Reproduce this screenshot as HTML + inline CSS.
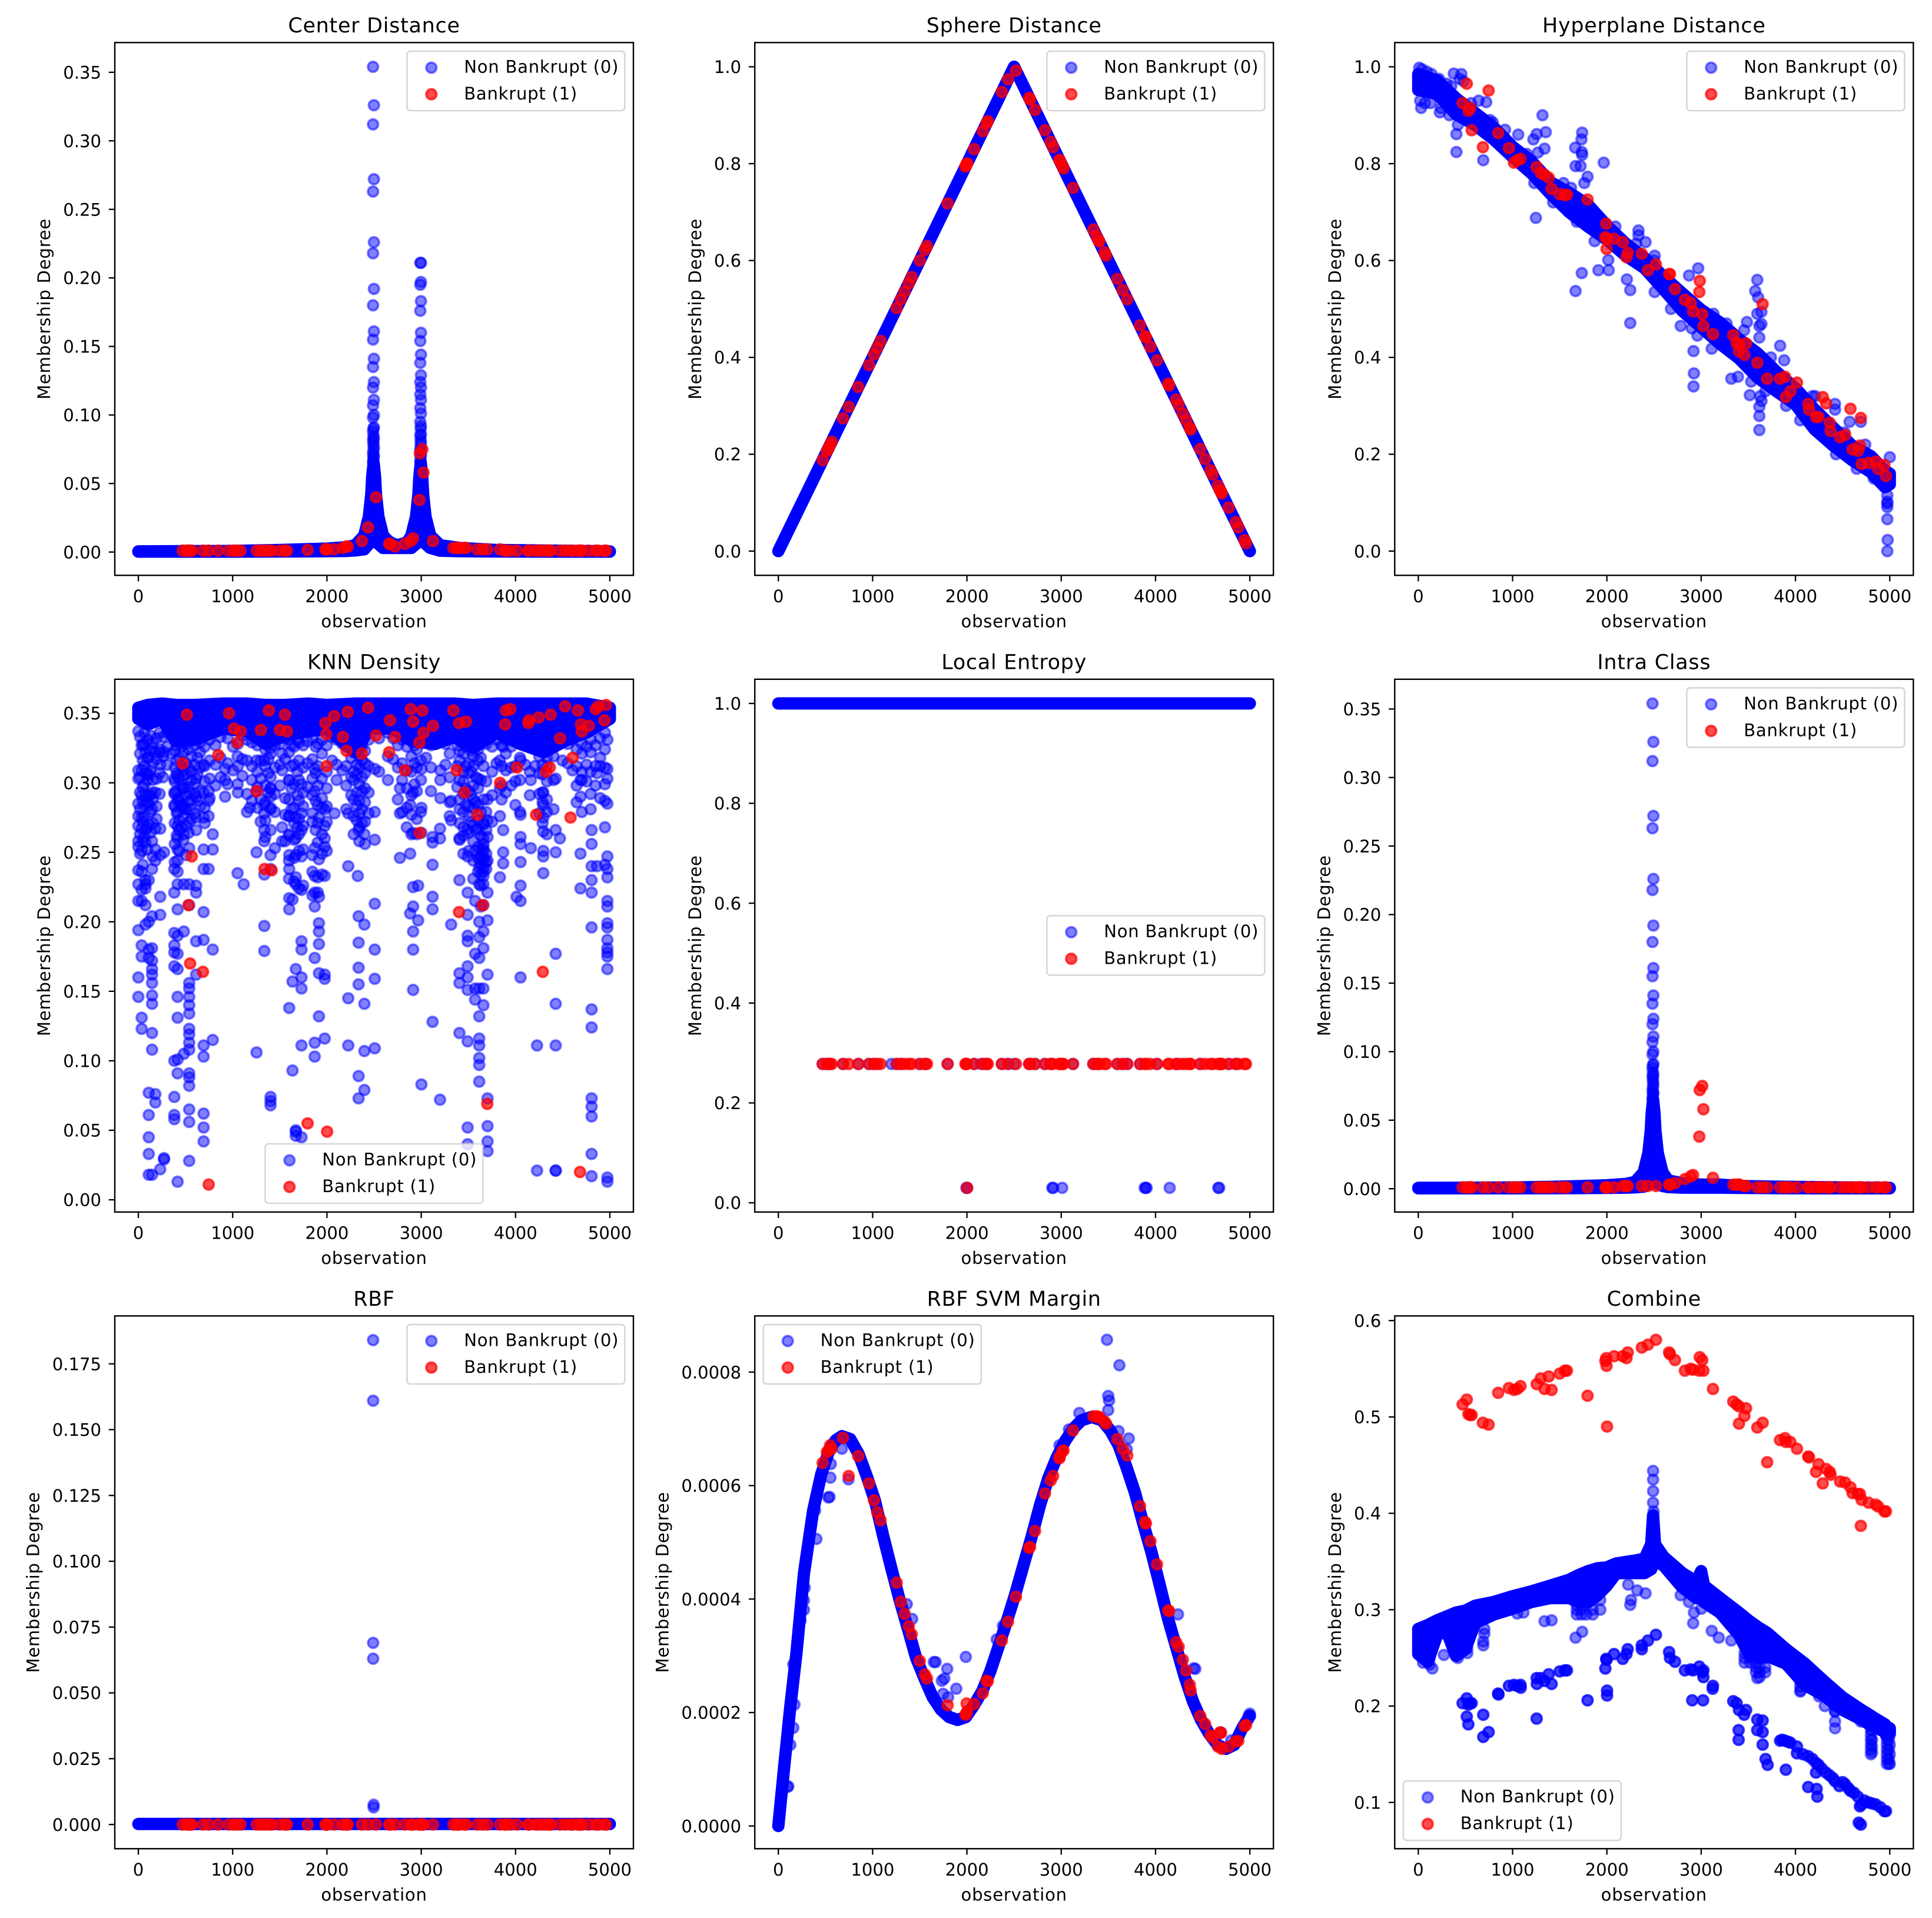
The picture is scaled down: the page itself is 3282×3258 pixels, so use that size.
<!DOCTYPE html>
<html lang="en">
<head>
<meta charset="utf-8">
<title>Membership Degree Panels</title>
<style>
html,body{margin:0;padding:0;background:#fff;}
svg{display:block;}
text{font-family:"DejaVu Sans","Liberation Sans",sans-serif;fill:#000;}
</style>
</head>
<body>
<svg id="chart" xmlns="http://www.w3.org/2000/svg" width="3282" height="3258" viewBox="0 0 3282 3258"></svg>
<script>
const obsTicks=[0,1000,2000,3000,4000,5000];

const bankruptObs=[470,514,531,549,566,685,746,847,961,1014,1049,1084,1255,1299,1339,1383,1414,1500,1554,1576,1795,1984,1993,1997,2002,2076,2168,2208,2221,2370,2436,2520,2660,2669,2722,2827,2888,2914,2985,3011,2980,3024,3125,3340,3375,3401,3476,3458,3401,3595,3652,3700,3836,3889,3898,3946,4016,4135,4144,4218,4245,4289,4324,4363,4372,4473,4526,4583,4605,4662,4684,4693,4702,4776,4851,4877,4943,4960];

const centerBankrupt=[.001,.001,.001,.001,.001,.001,.001,.001,.001,.001,.001,.001,.001,.001,.001,.001,.001,.001,.001,.001,.0015,.002,.002,.002,.002,.002,.003,.004,.004,.008,.018,.040,.006,.006,.004,.006,.008,.010,.072,.075,.038,.058,.008,.003,.003,.003,.003,.003,.003,.002,.002,.002,.002,.001,.001,.001,.001,.001,.001,.001,.001,.001,.001,.001,.001,.001,.001,.001,.001,.001,.001,.001,.001,.001,.001,.001,.001,.001];
const sphereBankrupt=[.188,.206,.212,.220,.226,.274,.298,.339,.384,.406,.420,.434,.502,.520,.536,.553,.566,.600,.622,.630,.718,.794,.797,.799,.801,.830,.867,.883,.888,.948,.974,.992,.936,.932,.911,.869,.845,.834,.806,.796,.808,.790,.750,.664,.650,.640,.610,.617,.640,.562,.539,.520,.466,.444,.441,.422,.394,.346,.342,.313,.302,.284,.270,.255,.251,.211,.190,.167,.158,.135,.126,.123,.119,.090,.060,.049,.023,.016];
const hyperBankrupt=[.925,.965,.909,.915,.869,.834,.951,.863,.832,.802,.807,.810,.793,.781,.777,.771,.748,.737,.735,.736,.726,.648,.676,.624,.645,.645,.638,.607,.616,.614,.580,.592,.572,.572,.541,.519,.512,.495,.558,.489,.535,.465,.448,.446,.430,.427,.429,.405,.413,.389,.510,.356,.356,.360,.318,.330,.348,.304,.292,.277,.277,.318,.305,.265,.248,.235,.240,.294,.210,.207,.218,.275,.180,.182,.185,.170,.178,.155];
const knnBankrupt=[.314,.349,.212,.170,.247,.164,.011,.320,.350,.339,.329,.337,.294,.338,.238,.352,.237,.338,.349,.337,.055,.343,.335,.312,.049,.348,.333,.323,.351,.321,.354,.334,.322,.345,.333,.309,.353,.344,.264,.352,.329,.336,.341,.352,.309,.343,.344,.293,.207,.277,.212,.069,.300,.342,.352,.353,.311,.343,.345,.277,.347,.164,.308,.311,.349,.332,.355,.275,.318,.352,.020,.342,.337,.341,.353,.355,.345,.356];
const localBankrupt=[.278,.278,.278,.278,.278,.278,.278,.278,.278,.278,.278,.278,.278,.278,.278,.278,.278,.278,.278,.278,.278,.278,.278,.278,.03,.278,.278,.278,.278,.278,.278,.278,.278,.278,.278,.278,.278,.278,.278,.278,.278,.278,.278,.278,.278,.278,.278,.278,.278,.278,.278,.278,.278,.278,.278,.278,.278,.278,.278,.278,.278,.278,.278,.278,.278,.278,.278,.278,.278,.278,.278,.278,.278,.278,.278,.278,.278,.278];
const intraBankrupt=[.001,.001,.001,.001,.001,.001,.001,.001,.001,.001,.001,.001,.001,.001,.001,.001,.001,.001,.001,.001,.001,.001,.001,.001,.001,.001,.002,.002,.002,.002,.002,.002,.003,.003,.004,.007,.009,.010,.072,.075,.038,.058,.008,.003,.003,.003,.002,.002,.003,.001,.001,.001,.001,.001,.001,.001,.001,.001,.001,.001,.001,.001,.001,.001,.001,.001,.001,.001,.001,.001,.001,.001,.001,.001,.001,.001,.001,.001];
const rbfBankrupt=[0,0,0,0,0,0,0,0,0,0,0,0,0,0,0,0,0,0,0,0,0,0,0,0,0,0,0,0,0,0,0,0,0,0,0,0,0,0,0,0,0,0,0,0,0,0,0,0,0,0,0,0,0,0,0,0,0,0,0,0,0,0,0,0,0,0,0,0,0,0,0,0,0,0,0,0,0,0];
const svmBankrupt=[6.4,6.59,6.62,6.71,6.65,6.84,6.17,6.52,6.04,5.74,5.53,5.39,4.29,3.95,3.74,3.52,3.38,2.91,2.67,2.6,2.13,1.96,1.98,2.16,2.02,2.15,2.34,2.56,2.55,3.27,3.6,4.04,4.9,4.92,5.2,5.86,6.09,6.17,6.51,6.6,6.48,6.62,6.97,7.22,7.22,7.21,7.09,7.13,7.2,6.82,6.65,6.53,5.64,5.36,5.33,5.02,4.61,3.8,3.79,3.24,3.16,2.93,2.74,2.49,2.39,1.94,1.8,1.6,1.56,1.4,1.65,1.64,1.36,1.4,1.49,1.5,1.76,1.78];
const combineBankrupt=[.513,.518,.503,.502,.502,.494,.492,.525,.530,.528,.529,.532,.534,.540,.529,.542,.528,.545,.548,.548,.522,.558,.561,.553,.490,.563,.563,.561,.567,.572,.575,.580,.567,.565,.559,.548,.550,.549,.562,.559,.548,.548,.529,.516,.513,.511,.509,.501,.493,.489,.494,.453,.476,.478,.474,.474,.467,.459,.458,.443,.451,.431,.446,.443,.440,.433,.432,.427,.421,.420,.420,.387,.414,.411,.409,.407,.402,.402];

const centerBandObs=[0,500,1000,1500,2000,2200,2300,2395,2445,2470,2480,2495,2510,2520,2545,2595,2650,2700,2750,2800,2850,2895,2945,2970,2980,2995,3010,3020,3045,3095,3200,3400,3800,4400,5000];
const centerBandHigh=[.0005,.0006,.0008,.0015,.0025,.0035,.005,.012,.026,.042,.055,.065,.055,.042,.026,.012,.008,.006,.005,.006,.007,.012,.026,.042,.055,.065,.055,.042,.026,.012,.005,.003,.0015,.001,.0005];
const centerBandLow=[.0003,.0003,.0003,.0004,.0006,.0008,.0012,.002,.006,.012,.02,.025,.02,.012,.006,.003,.003,.003,.003,.003,.003,.003,.006,.012,.02,.025,.02,.012,.006,.003,.001,.0006,.0004,.0003,.0003];
const spikeUpperValues=[.354,.312,.263,.218,.180,.155,.135,.120,.107,.098,.088,.082,.072,.066,.058];
const spikeLowerValues=[.326,.272,.226,.192,.161,.141,.124,.111,.100,.091,.083,.076,.070,.062];
const centerColumns=[[2489,spikeUpperValues],[2498,spikeLowerValues],[2493,[.09,.085,.08,.078,.074,.07,.068,.065,.06]],[2990,[.211,.195,.176,.154,.138,.124,.115,.105,.095,.085,.075,.066,.058]],[2997,[.211,.197,.183,.160,.144,.129,.120,.111,.101,.092,.086,.080,.071,.062,.054]],[2993,[.09,.082,.078,.074,.07,.067,.064,.06]]];

const sphereBandObs=[0,1250,2500,3750,5000];
const sphereBandValues=[0,.5,1,.5,0];

const hyperBandObs=[0,200,400,600,800,1000,1200,1400,1600,1800,2000,2200,2400,2600,2800,3000,3200,3400,3600,3800,4000,4200,4400,4600,4800,4950,5000];
const hyperBandHigh=[.985,.972,.935,.905,.875,.835,.805,.762,.74,.715,.672,.635,.605,.567,.532,.498,.472,.438,.408,.37,.336,.293,.255,.218,.196,.166,.16];
const hyperBandLow=[.952,.944,.902,.88,.85,.814,.78,.738,.7,.67,.643,.61,.584,.541,.496,.462,.428,.398,.358,.33,.303,.252,.218,.188,.163,.132,.138];
const hyperOutliers=[[1317,.9],[1352,.865],[1255,.861],[1220,.85],[1339,.831],[1269,.823],[1664,.833],[1738,.864],[1730,.85],[1734,.824],[1738,.818],[1668,.795],[1721,.795],[1795,.773],[1967,.802],[404,.824],[404,.861],[377,.986],[457,.985],[689,.807],[30,.915],[228,.906],[720,.927],[1247,.688],[1668,.537],[1734,.574],[1910,.58],[2019,.58],[2015,.601],[2212,.561],[2248,.539],[2248,.471],[2335,.662],[2335,.652],[2410,.638],[2507,.61],[2507,.535],[2783,.465],[2871,.569],[2968,.584],[2919,.413],[2923,.367],[2919,.34],[3112,.418],[3319,.356],[3595,.56],[3573,.537],[3604,.524],[3595,.49],[3639,.494],[3485,.473],[3617,.465],[3639,.469],[3617,.441],[3455,.456],[3837,.424],[3880,.394],[3516,.322],[3626,.32],[3617,.298],[3617,.279],[3617,.25],[4210,.32],[4420,.304],[4420,.292],[4574,.267],[4693,.267],[5000,.194],[4974,.115],[4974,.102],[4974,.098],[4974,.091],[4974,.066],[4978,.023],[4974,0],[10,.998],[40,.995],[90,.99],[140,.985],[220,.975],[300,.965],[350,.96],[20,.93],[70,.925],[130,.925],[240,.915],[330,.9],[440,.975],[480,.97],[420,.88],[560,.925],[640,.93],[760,.89],[790,.885],[920,.87],[1060,.86],[1150,.82],[1230,.76],[1430,.72],[1540,.76],[1620,.75],[1680,.68],[1760,.76],[1870,.64],[2090,.67],[2310,.635],[2500,.6],[2680,.5],[2760,.52],[2900,.46],[2960,.445],[3130,.49],[3270,.47],[3300,.43],[3390,.36],[3530,.35],[3680,.33],[3640,.31],[3740,.4],[3900,.3],[4050,.27],[4180,.32],[4320,.235],[4430,.2],[4520,.245],[4650,.17],[4740,.22],[4830,.15]];

const knnBandObs=[0,100,250,400,600,900,1150,1350,1550,1800,2000,2300,2450,2700,2900,3150,3350,3550,3800,4050,4300,4550,4750,5000];
const knnBandHigh=[.354,.356,.357,.356,.356,.357,.357,.356,.356,.357,.356,.357,.357,.357,.357,.357,.357,.356,.357,.357,.357,.357,.357,.354];
const knnBandLow=[.346,.342,.346,.33,.331,.339,.337,.328,.334,.337,.339,.322,.339,.339,.33,.328,.333,.325,.336,.328,.322,.331,.336,.346];
const knnColumns=[
[0,[.146,.16,.194,.215,.227,.237,.254,.258,.269,.276,.285,.303,.309,.337]],
[35,[.131,.123,.183,.175,.215,.223,.236,.251,.267,.275,.291,.309,.327]],
[75,[.227,.224,.212,.23,.198,.257,.266,.291,.307,.322]],
[110,[.077,.061,.045,.033,.018,.23,.2,.18,.174,.27,.284,.291,.306,.318]],
[145,[.12,.108,.018,.141,.147,.156,.162,.166,.172,.181,.204,.238,.258,.281,.293,.325]],
[180,[.07,.076,.244,.252,.267,.293,.322]],
[232,[.218,.205,.248,.267,.313,.324,.022]],
[272,[.03,.029,.25,.322]],
[381,[.192,.183,.178,.1,.074,.061,.058,.168,.221,.238,.284,.293,.303,.331]],
[416,[.013,.209,.19,.177,.166,.146,.131,.091,.101,.26,.236,.227,.244,.252,.269,.279,.288,.305]],
[482,[.105,.193,.227,.305,.296,.281,.263]],
[539,[.028,.056,.065,.082,.088,.091,.108,.113,.119,.123,.134,.14,.146,.152,.156,.212,.227,.253,.272,.281,.293]],
[613,[.162,.186,.221,.226,.266,.275,.29,.303]],
[692,[.042,.052,.062,.103,.111,.187,.207,.238,.252,.275,.293,.313]],
[745,[.238,.276,.287,.294]],
[789,[.115,.18,.252,.263]],
[920,[.302,.29,.31]],
[1052,[.235,.299,.319]],
[1117,[.227]],
[1183,[.282]],
[1253,[.106,.25,.294,.316]],
[1336,[.179,.197,.234,.258,.266,.278,.284,.316]],
[1402,[.074,.071,.068,.238,.248,.281,.29,.296,.325]],
[1525,[.268,.258,.309,.321]],
[1600,[.138,.209,.217,.238,.248,.263,.276,.302]],
[1635,[.093,.157,.216]],
[1670,[.049,.05,.046,.166,.227,.232,.248,.26,.275]],
[1730,[.045,.111,.152,.16,.18,.186,.223,.247,.266,.278,.299]],
[1870,[.103,.113,.174,.211,.221,.233,.253,.294,.31]],
[1915,[.132,.163,.184,.193,.199,.218,.245,.275]],
[1976,[.116,.159,.162,.233,.254,.26,.269,.281]],
[2080,[.278]],
[2226,[.24,.111,.145,.278]],
[2327,[.233]],
[2336,[.073,.089,.155,.167,.185,.204,.266]],
[2397,[.079,.107,.141,.198,.263]],
[2507,[.109,.159,.18,.213,.259,.279,.31]],
[2774,[.246,.278,.296]],
[2883,[.206,.249,.284]],
[2914,[.151,.18,.193,.211,.225,.264,.293]],
[2967,[.201,.226]],
[3002,[.083,.264,.282,.31]],
[3120,[.128,.209,.218,.241,.257,.261]],
[3199,[.072,.26,.267]],
[3317,[.198,.273,.287]],
[3405,[.12,.156,.163,.23,.26]],
[3492,[.052,.04,.114,.168,.16,.151,.186,.19,.205,.221,.247,.266]],
[3571,[.177,.152,.144,.215,.251]],
[3615,[.085,.097,.102,.111,.116,.132,.152,.174,.189,.2,.227,.239,.245]],
[3659,[.14,.152,.181,.193,.212,.227,.236,.244,.253,.26,.27]],
[3703,[.035,.042,.053,.073,.162,.201,.221,.244,.261,.273,.288]],
[3834,[.232,.276,.296,.316]],
[3869,[.242,.25,.266,.326]],
[4010,[.218]],
[4053,[.16,.215,.226,.243,.261,.256,.277,.316]],
[4162,[.253,.302]],
[4228,[.021,.111]],
[4294,[.235,.247,.251,.265,.275,.284,.293]],
[4426,[.021,.021,.111,.141,.177,.25,.266,.303]],
[4470,[.26]],
[4689,[.224,.249,.29,.302]],
[4807,[.017,.033,.06,.067,.073,.124,.137,.196,.221,.23,.24,.256,.266]],
[4864,[.24,.307]],
[4974,[.016,.013,.166,.175,.178,.181,.187,.196,.199,.211,.215,.232,.238,.247,.285,.303,.31,.331]]
];
const knnDenseColumns=[
[18,[.333,.321,.304,.293,.281,.263,.249]],[47,[.328,.316,.297,.287,.272,.258,.241]],[63,[.336,.327,.312,.299,.284,.276,.261]],[96,[.331,.318,.306,.302,.286,.268,.252]],[128,[.334,.323,.309,.291,.279,.264]],[152,[.329,.314,.302,.288,.271,.247]],[193,[.332,.317,.303,.283,.274]],[226,[.336,.322,.307,.292]],[262,[.333,.319,.304]],[305,[.336,.326,.313]],[348,[.334,.321]],
[386,[.332,.323,.311,.301,.292,.283,.271,.256,.243]],[407,[.327,.316,.307,.294,.278,.262]],[433,[.331,.318,.303,.289,.286,.273,.266,.251]],[458,[.326,.312,.298,.284,.268]],[477,[.333,.322,.309,.296,.283,.276,.259]],[506,[.328,.314,.306,.291,.281,.269,.248]],[533,[.324,.311,.297,.286,.264]],[561,[.331,.319,.308,.302,.288,.274]],[597,[.327,.313,.299,.292,.278]],[628,[.332,.318,.306,.287]],[654,[.329,.322,.311,.294,.283]],[703,[.326,.312,.301,.282,.271]],[756,[.331,.316,.303,.289]],[818,[.327,.313,.298]],[871,[.333,.318,.304]],
[947,[.332,.314,.299]],[1003,[.326,.309]],[1056,[.328,.312,.293]],[1103,[.334,.317,.305]],[1152,[.331,.316,.292,.279]],[1204,[.329,.312,.302,.287]],
[1262,[.327,.308,.297,.282]],[1297,[.332,.316,.303,.288,.272]],[1346,[.324,.312,.298,.286,.273,.261]],[1378,[.329,.317,.307,.293]],[1403,[.333,.321,.304,.296,.282,.266]],[1448,[.327,.311,.292,.279,.253]],
[1502,[.328,.313,.298]],[1557,[.332,.317,.289,.277,.258]],[1598,[.331,.322,.302,.288,.276,.262,.244,.231]],[1624,[.327,.312,.296,.281]],[1652,[.326,.313,.299,.282,.271,.259,.246,.229]],[1687,[.331,.308,.291,.268]],[1703,[.329,.316,.302,.287,.274,.263,.251,.224]],[1748,[.327,.311,.293,.283,.269,.252,.226]],[1793,[.33,.314,.297]],
[1846,[.332,.317,.303,.291,.278,.272,.248,.236,.219]],[1881,[.326,.307,.287,.266]],[1903,[.328,.312,.298,.284,.271,.257,.232,.221]],[1947,[.331,.321,.303,.289,.282,.263,.249,.234]],[1998,[.327,.308,.296,.283,.272,.251]],
[2054,[.333,.316]],[2103,[.331,.313,.302]],[2162,[.328,.309]],[2204,[.326,.312,.298,.281]],[2258,[.331,.318,.304,.291]],[2284,[.327,.322,.308,.302,.288,.276,.263]],[2317,[.324,.313,.306,.293,.284,.273]],[2343,[.331,.319,.311,.299,.287,.278,.268,.258]],[2372,[.326,.316,.304,.294,.281,.271]],[2403,[.323,.314,.307,.296,.286,.272,.256]],[2442,[.331,.312,.293,.278]],
[2553,[.332,.308]],[2647,[.336,.319,.302]],[2703,[.332,.317]],[2752,[.327,.311,.288]],[2798,[.331,.314,.302,.279]],[2847,[.326,.309,.296,.282,.268]],[2896,[.332,.319,.308,.291,.277,.263]],[2928,[.327,.314,.299]],[2953,[.324,.311,.294,.274,.263]],[2996,[.331,.316,.302,.279]],[3052,[.333,.318]],[3103,[.327,.311,.294]],[3203,[.332,.309,.302,.289]],[3257,[.328,.313]],[3302,[.321,.304,.286,.276]],
[3382,[.327,.312,.297]],[3408,[.323,.316,.302,.288,.281,.271,.259]],[3447,[.331,.321,.308,.301,.292,.279,.268,.262,.249]],[3472,[.326,.312,.296,.284]],[3503,[.327,.314,.307,.294,.283,.276,.264,.251]],[3531,[.323,.308,.291,.272]],[3552,[.331,.319,.312,.298,.288,.282,.269,.258,.244,.231]],[3578,[.326,.304,.286,.266]],[3603,[.324,.316,.303,.296,.284,.273,.267,.254,.246,.236]],[3632,[.318,.302,.279,.262,.252,.247,.241,.234,.226,.211]],[3661,[.312,.288,.271,.256,.251,.246,.239,.233]],[3689,[.328,.301,.279,.266,.249,.243,.238]],[3752,[.326,.308,.291,.272]],[3798,[.331,.314]],
[3852,[.327,.312,.298,.288]],[3897,[.331,.321,.309,.293]],[3953,[.326,.311,.298]],[3998,[.332,.312,.301,.284]],[4047,[.329,.318,.302,.279]],[4103,[.331,.313]],[4152,[.327,.308,.291]],[4207,[.329,.312]],[4252,[.328,.319,.307,.292,.278]],[4287,[.324,.313,.306,.293,.286,.271]],[4333,[.329,.318,.312,.301,.288,.279,.263]],[4403,[.319,.302,.281]],[4497,[.332,.316]],[4553,[.328,.314]],[4604,[.331,.309]],[4648,[.324,.312,.298,.286]],[4703,[.328,.321,.308,.302,.279]],[4753,[.326,.313,.301]],[4797,[.331,.322,.308,.292,.281]],[4848,[.327,.312,.298]],[4897,[.332,.318,.312,.289]],[4948,[.336,.324,.311,.299,.287,.268,.241]]
];

const localBandObs=[0,5000];
const localBandValues=[1,1];
const localPoints=[[470,.278],[514,.278],[685,.278],[850,.278],[961,.278],[1014,.278],[1200,.278],[1255,.278],[1299,.278],[1500,.278],[1554,.278],[1795,.278],[2076,.278],[2150,.278],[2208,.278],[2370,.278],[2436,.278],[2500,.278],[2660,.278],[2722,.278],[2827,.278],[2888,.278],[3125,.278],[3340,.278],[3595,.278],[3652,.278],[3700,.278],[3836,.278],[4016,.278],[4218,.278],[4473,.278],[4693,.278],[4776,.278],[4851,.278],[1995,.03],[2002,.03],[2905,.03],[2915,.03],[3010,.03],[3885,.03],[3895,.03],[3905,.03],[4150,.03],[4665,.03],[4675,.03]];

const intraBandObs=[0,500,1000,1500,2000,2200,2300,2390,2440,2465,2475,2490,2505,2515,2540,2590,2650,2800,3000,3200,3400,3800,4400,5000];
const intraBandHigh=[.0006,.0007,.0009,.0015,.0025,.0035,.005,.012,.026,.042,.055,.065,.055,.042,.026,.012,.006,.004,.003,.003,.002,.0015,.001,.0006];
const intraBandLow=[.0003,.0003,.0003,.0004,.0006,.0008,.001,.0015,.0035,.006,.012,.018,.012,.006,.0035,.002,.0012,.0008,.0008,.0008,.0006,.0004,.0003,.0003];
const intraColumns=[[2484,spikeUpperValues],[2493,spikeLowerValues],[2489,[.09,.085,.08,.078,.074,.07,.068,.065,.06]]];

const rbfBandObs=[0,5000];
const rbfBandValues=[.0002,.0002];
const rbfPoints=[[2490,.184],[2490,.161],[2490,.069],[2490,.063],[2495,.0075],[2495,.0065]];

const svmBandObs=[0,61,127,193,271,368,455,543,609,674,762,850,937,1025,1112,1200,1287,1375,1462,1550,1637,1725,1812,1900,1988,2075,2163,2250,2338,2425,2513,2600,2688,2776,2863,2951,3039,3126,3214,3323,3433,3520,3608,3695,3783,3870,3958,4046,4133,4221,4308,4396,4483,4571,4658,4746,4834,4921,5000];
const svmBandValues=[0,1.03,2.11,3.07,4.45,5.55,6.2,6.64,6.8,6.87,6.82,6.56,6.17,5.73,5.11,4.53,3.98,3.47,2.96,2.6,2.27,2.05,1.92,1.87,1.92,2.13,2.38,2.74,3.18,3.62,4.09,4.6,5.11,5.66,6.13,6.49,6.78,7.0,7.15,7.21,7.15,6.97,6.71,6.31,5.87,5.33,4.82,4.24,3.65,3.14,2.64,2.2,1.87,1.62,1.43,1.36,1.43,1.73,1.94];
const svmOutliers=[[3485,8.57],[3617,8.12],[3498,7.58],[3507,7.5],[3498,7.33],[3192,7.28],[3717,6.83],[3608,6.96],[3695,6.64],[2982,6.71],[3082,6.99],[552,6.14],[543,5.8],[530,5.79],[403,5.06],[390,5.56],[556,6.38],[744,6.11],[674,6.65],[280,4.2],[271,3.98],[271,3.81],[236,3.62],[158,2.85],[171,2.14],[158,1.73],[96,.69],[105,.7],[127,1.43],[1362,3.91],[1419,3.65],[1668,2.89],[1650,2.89],[1791,2.77],[1734,2.56],[1760,2.6],[1887,2.42],[1988,2.98],[1747,2.33],[1800,2.27],[4238,3.73],[4422,2.77],[4405,2.78],[2316,3.29],[2382,3.53],[4803,1.51],[4693,1.65],[4987,1.94],[5000,1.98]];

const combineBandObs=[0,100,200,300,400,500,600,800,1000,1200,1400,1600,1700,1800,1900,2000,2100,2300,2400,2470,2490,2510,2600,2800,2950,3000,3030,3200,3400,3500,3600,3700,3900,4100,4300,4500,4700,4800,4830,4950,4960,5000];
const combineBandHigh=[.28,.284,.289,.293,.297,.299,.304,.308,.314,.319,.325,.331,.336,.34,.343,.344,.348,.351,.353,.368,.398,.368,.355,.338,.329,.34,.325,.312,.297,.289,.282,.276,.259,.244,.226,.209,.196,.19,.188,.181,.179,.177];
const combineBandLow=[.254,.246,.274,.278,.252,.259,.286,.295,.301,.308,.312,.312,.308,.308,.315,.325,.338,.338,.338,.342,.351,.35,.346,.323,.312,.312,.308,.297,.274,.255,.25,.252,.244,.222,.211,.196,.186,.18,.179,.173,.17,.172];
const combinePoints=[[2490,.444],[2490,.435],[2490,.423],[2490,.411],[2495,.402],[2490,.39],[2226,.326],[2256,.31],[2248,.305],[2322,.32],[2410,.317],[1668,.271],[1738,.277],[689,.263],[689,.267],[1049,.296],[1115,.297],[1339,.288],[1414,.289],[149,.239],[272,.253],[2783,.315],[2871,.308],[2915,.286],[2923,.297],[3002,.301],[3112,.278],[3187,.271],[3319,.268],[4311,.2],[4420,.194],[4420,.184],[4420,.177],[4056,.216],[4693,.184],[3595,.229]];
const combineLowerBranch=[[470,.203],[514,.208],[531,.2015],[549,.203],[566,.203],[514,.189],[531,.181],[689,.191],[689,.168],[746,.173],[847,.213],[850,.212],[961,.221],[1014,.222],[1049,.221],[1084,.222],[1086,.219],[1255,.229],[1255,.187],[1257,.223],[1299,.229],[1339,.226],[1383,.233],[1414,.223],[1500,.236],[1554,.237],[1576,.237],[1795,.206],[1984,.239],[1993,.249],[1997,.248],[2002,.211],[2002,.216],[2076,.254],[2168,.249],[2208,.254],[2221,.259],[2370,.259],[2370,.263],[2436,.268],[2520,.274],[2660,.256],[2669,.25],[2722,.246],[2827,.237],[2888,.238],[2914,.237],[2905,.206],[2980,.241],[3024,.237],[3024,.23],[3020,.206],[3011,.235],[3125,.221],[3122,.218],[3340,.205],[3375,.203],[3401,.196],[3476,.196],[3455,.191],[3397,.175],[3397,.165],[3595,.186],[3652,.185],[3595,.175],[3652,.173],[3652,.16],[3683,.145],[3705,.139],[3837,.164],[3889,.164],[3898,.134],[3946,.162],[4016,.158],[4016,.151],[4135,.148],[4135,.116],[4218,.141],[4218,.131],[4232,.106],[4224,.114],[4245,.139],[4324,.131],[4363,.128],[4465,.117],[4526,.119],[4583,.112],[4662,.106],[4684,.096],[4671,.079],[4693,.077],[4702,.098],[4776,.1],[4851,.098],[4943,.091],[4960,.091],[3860,.165],[3920,.163],[4080,.15],[4180,.145],[4280,.135],[4400,.125],[4420,.122],[4500,.121],[4560,.115],[4620,.11],[4730,.102],[4810,.099],[4900,.095]];
const combineColumns=[[4800,[.18,.175,.17,.165,.16,.155,.15]],[4812,[.175,.165,.158,.152]],[4970,[.17,.165,.16,.155,.15,.145,.14]],[4990,[.175,.165,.155,.145,.14]],[5000,[.17,.16,.15,.14]],[3460,[.255,.25,.245]],[3520,[.27,.26,.25,.245]],[3580,[.265,.255,.245,.24,.235]],[3620,[.26,.25,.24,.235,.23]],[3680,[.265,.25,.24,.235]],[1680,[.305,.3,.295]],[1730,[.31,.3,.295]],[1780,[.305,.295]],[1850,[.31,.3,.295]],[1930,[.31,.3]],[4050,[.235,.225,.22,.215]],[4250,[.215,.21]],[4420,[.2,.195]],[50,[.25,.245]],[120,[.25,.243]],[420,[.26,.255,.25]],[520,[.26,.255]],[700,[.28,.275]]];

const frac2Ticks=[0,.05,.1,.15,.2,.25,.3,.35];
const frac2Labels=['0.00','0.05','0.10','0.15','0.20','0.25','0.30','0.35'];
const unitTicks=[0,.2,.4,.6,.8,1];
const unitLabels=['0.0','0.2','0.4','0.6','0.8','1.0'];
const rbfTicks=[0,.025,.05,.075,.1,.125,.15,.175];
const rbfLabels=['0.000','0.025','0.050','0.075','0.100','0.125','0.150','0.175'];
const svmTicks=[0,2,4,6,8];
const svmLabels=['0.0000','0.0002','0.0004','0.0006','0.0008'];
const combineTicks=[.1,.2,.3,.4,.5,.6];
const combineLabels=['0.1','0.2','0.3','0.4','0.5','0.6'];

const NS='http://www.w3.org/2000/svg';
const root=document.getElementById('chart');
const colLeft=[195,1282.2,2369.3];
const rowTop=[72.3,1153.8,2235.3];
const axW=881,axH=905;
const xMin=-250,xMax=5250;
const R=8.73,EDGE=3.8,BAND=21,LS=.75;

function node(tag,attrs,parent,txt){
  const el=document.createElementNS(NS,tag);
  for(const k in attrs) el.setAttribute(k,attrs[k]);
  if(txt!==undefined) el.textContent=txt;
  parent.appendChild(el);
  return el;
}
function flatten(cols){
  const out=[];
  cols.forEach(c=>c[1].forEach(v=>out.push([c[0],v])));
  return out;
}
function labelWidth(s){return ((s.length-1)*.636+.318)*29.1;}

function drawPanel(p,idx){
  const left=colLeft[p.col],top=rowTop[p.row];
  const sx=v=>left+(v-xMin)/(xMax-xMin)*axW;
  const sy=v=>top+axH-(v-p.yMin)/(p.yMax-p.yMin)*axH;
  const g=node('g',{},root);
  
  

  const clipId='clip'+idx;
  const defs=node('defs',{},g);
  const cp=node('clipPath',{id:clipId},defs);
  node('rect',{x:left,y:top,width:axW,height:axH},cp);

  const plot=node('g',{'clip-path':'url(#'+clipId+')'},g);
  
  

  let d='';
  p.bandObs.forEach((o,i)=>{d+=(i?'L':'M')+sx(o).toFixed(1)+' '+sy(p.bandHigh[i]).toFixed(1);});
  for(let i=p.bandObs.length-1;i>=0;i--){d+='L'+sx(p.bandObs[i]).toFixed(1)+' '+sy(p.bandLow[i]).toFixed(1);}
  const band=node('path',{d:d+'Z',fill:'#0000ff',stroke:'#0000ff','stroke-width':BAND,'stroke-linejoin':'round'},plot);
  
  

  p.points.forEach(pt=>{
    const c=node('circle',{cx:sx(pt[0]).toFixed(1),cy:sy(pt[1]).toFixed(1),r:R,fill:'#0000ff','fill-opacity':.5,stroke:'#0000ff','stroke-opacity':.5,'stroke-width':EDGE},plot);
    
    
  });
  bankruptObs.forEach((o,i)=>{
    const c=node('circle',{cx:sx(o).toFixed(1),cy:sy(p.bankrupt[i]).toFixed(1),r:R,fill:'#ff0000','fill-opacity':.7,stroke:'#ff0000','stroke-opacity':.7,'stroke-width':EDGE},plot);
    
    
  });

  const frame=node('rect',{x:left,y:top,width:axW,height:axH,fill:'none',stroke:'#000','stroke-width':2.4},g);
  
  

  obsTicks.forEach(t=>{
    const x=sx(t);
    const tk=node('line',{x1:x,x2:x,y1:top+axH,y2:top+axH+10.2,stroke:'#000','stroke-width':2.3},g);
    
    
    const lb=node('text',{x:x,y:top+axH+45.6,'text-anchor':'middle','font-size':29.1},g,String(t));
    
    
  });
  let longest=0;
  p.yTicks.forEach((t,i)=>{
    const y=sy(t);
    const tk=node('line',{x1:left-10.2,x2:left,y1:y,y2:y,stroke:'#000','stroke-width':2.3},g);
    
    
    const lb=node('text',{x:left-23,y:y+10.6,'text-anchor':'end','font-size':29.1},g,p.yLabels[i]);
    
    
    longest=Math.max(longest,labelWidth(p.yLabels[i]));
  });

  const cx=left+axW/2,cy=top+axH/2;
  const title=node('text',{x:cx,y:top-17.5,'text-anchor':'middle','font-size':34.9,'letter-spacing':LS},g,p.title);
  
  
  const xl=node('text',{x:cx,y:top+axH+88,'text-anchor':'middle','font-size':29.1,'letter-spacing':LS},g,'observation');
  
  
  const ylx=left-longest-45;
  const yl=node('text',{x:ylx,y:cy,'text-anchor':'middle','font-size':29.1,'letter-spacing':LS,transform:'rotate(-90 '+ylx+' '+cy+')'},g,'Membership Degree');
  
  

  const lg=node('g',{},g);
  
  
  const lx=p.legend[0],ly=p.legend[1];
  const box=node('rect',{x:lx,y:ly,width:370,height:101,rx:5.8,ry:5.8,fill:'#fff','fill-opacity':.8,stroke:'#ccc','stroke-opacity':.8,'stroke-width':2.6},lg);
  
  
  const m0=node('circle',{cx:lx+41.4,cy:ly+28,r:R,fill:'#0000ff','fill-opacity':.5,stroke:'#0000ff','stroke-opacity':.5,'stroke-width':EDGE},lg);
  
  
  const t0=node('text',{x:lx+96.8,y:ly+36.5,'font-size':29.1,'letter-spacing':LS},lg,'Non Bankrupt (0)');
  
  
  const m1=node('circle',{cx:lx+41.4,cy:ly+73.1,r:R,fill:'#ff0000','fill-opacity':.7,stroke:'#ff0000','stroke-opacity':.7,'stroke-width':EDGE},lg);
  
  
  const t1=node('text',{x:lx+96.8,y:ly+82,'font-size':29.1,'letter-spacing':LS},lg,'Bankrupt (1)');
  
  
}

[
 {slug:'center-distance',title:'Center Distance',col:0,row:0,yMin:-.017,yMax:.3717,yTicks:frac2Ticks,yLabels:frac2Labels,bandObs:centerBandObs,bandHigh:centerBandHigh,bandLow:centerBandLow,points:flatten(centerColumns),bankrupt:centerBankrupt,legend:[691.4,87]},
 {slug:'sphere-distance',title:'Sphere Distance',col:1,row:0,yMin:-.05,yMax:1.05,yTicks:unitTicks,yLabels:unitLabels,bandObs:sphereBandObs,bandHigh:sphereBandValues,bandLow:sphereBandValues,points:[],bankrupt:sphereBankrupt,legend:[1778.4,87]},
 {slug:'hyperplane-distance',title:'Hyperplane Distance',col:2,row:0,yMin:-.05,yMax:1.05,yTicks:unitTicks,yLabels:unitLabels,bandObs:hyperBandObs,bandHigh:hyperBandHigh,bandLow:hyperBandLow,points:hyperOutliers,bankrupt:hyperBankrupt,legend:[2865.4,87]},
 {slug:'knn-density',title:'KNN Density',col:0,row:1,yMin:-.0088,yMax:.3745,yTicks:frac2Ticks,yLabels:frac2Labels,bandObs:knnBandObs,bandHigh:knnBandHigh,bandLow:knnBandLow,points:flatten(knnColumns).concat(flatten(knnDenseColumns)),bankrupt:knnBankrupt,legend:[450.4,1943]},
 {slug:'local-entropy',title:'Local Entropy',col:1,row:1,yMin:-.0185,yMax:1.0485,yTicks:unitTicks,yLabels:unitLabels,bandObs:localBandObs,bandHigh:localBandValues,bandLow:localBandValues,points:localPoints,bankrupt:localBankrupt,legend:[1778.4,1555.5]},
 {slug:'intra-class',title:'Intra Class',col:2,row:1,yMin:-.017,yMax:.3717,yTicks:frac2Ticks,yLabels:frac2Labels,bandObs:intraBandObs,bandHigh:intraBandHigh,bandLow:intraBandLow,points:flatten(intraColumns),bankrupt:intraBankrupt,legend:[2865.4,1168.4]},
 {slug:'rbf',title:'RBF',col:0,row:2,yMin:-.0092,yMax:.1932,yTicks:rbfTicks,yLabels:rbfLabels,bandObs:rbfBandObs,bandHigh:rbfBandValues,bandLow:rbfBandValues,points:rbfPoints,bankrupt:rbfBankrupt,legend:[691.4,2249.9]},
 {slug:'rbf-svm-margin',title:'RBF SVM Margin',col:1,row:2,yMin:-.4,yMax:8.99,yTicks:svmTicks,yLabels:svmLabels,bandObs:svmBandObs,bandHigh:svmBandValues,bandLow:svmBandValues,points:svmOutliers,bankrupt:svmBankrupt,legend:[1296.8,2249.9]},
 {slug:'combine',title:'Combine',col:2,row:2,yMin:.052,yMax:.6048,yTicks:combineTicks,yLabels:combineLabels,bandObs:combineBandObs,bandHigh:combineBandHigh,bandLow:combineBandLow,points:combinePoints.concat(combineLowerBranch,combineLowerBranch,flatten(combineColumns)),bankrupt:combineBankrupt,legend:[2383.9,3025.2]}
].forEach(drawPanel);
</script>
</body>
</html>
